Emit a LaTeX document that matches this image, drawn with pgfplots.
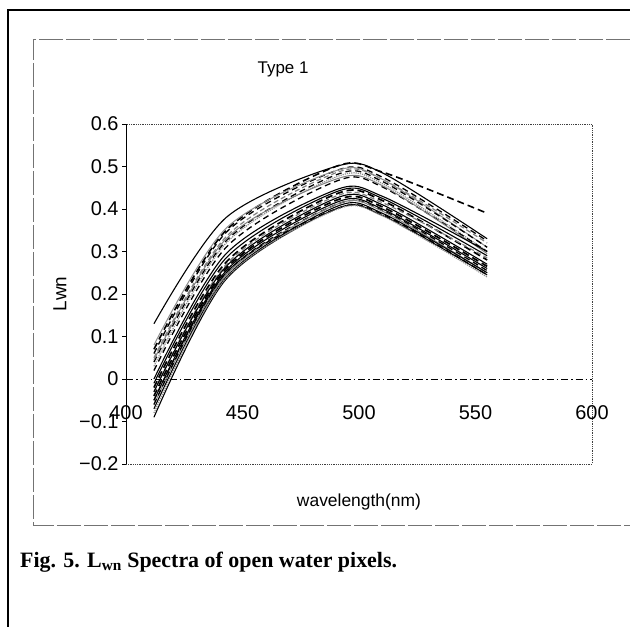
\documentclass[border=0pt]{standalone}
\usepackage{fontspec}
\setmainfont{Liberation Sans}
\newfontfamily\capfont{Liberation Serif}
\usepackage{pgfplots}
\pgfplotsset{compat=1.18}
\begin{document}
\begin{tikzpicture}
\path[use as bounding box] (0bp,0bp) rectangle (630bp,627bp);
\draw[line width=2bp] (8bp,0bp) -- (8bp,617bp) -- (630bp,617bp);
\draw[black!55, line width=0.7bp, dash pattern=on 24bp off 3bp] (630bp,588bp) -- (33bp,588bp) -- (33bp,102bp) -- (630bp,102bp);
\begin{axis}[
  at={(126bp,163bp)}, anchor=south west,
  scale only axis, width=466bp, height=340bp,
  xmin=400, xmax=600, ymin=-0.2, ymax=0.6,
  axis line style={black!75, densely dotted, line width=0.8bp},
  xtick={400,450,500,550,600},
  xticklabels={400,450,500,550,600},
  ytick={-0.2,-0.1,0,0.1,0.2,0.3,0.4,0.5,0.6},
  yticklabels={−0.2,−0.1,0,0.1,0.2,0.3,0.4,0.5,0.6},
  ytick pos=left,
  tick align=outside,
  major tick length=4bp,
  xtick style={draw=none},
  ytick style={black, line width=0.6bp, solid},
  ticklabel style={font=\fontsize{20}{21}\selectfont},
  xticklabel style={anchor=center, yshift=55bp},
  /pgf/number format/assume math mode=true,
  extra y ticks={0},
  extra y tick labels={},
  extra y tick style={grid=major, major grid style={black, solid, line width=0.7bp, dash pattern=on 7bp off 3bp on 1.5bp off 3bp}, tick style={draw=none}},
  title={Type 1},
  title style={at={(axis description cs:0.337,1.144)}, anchor=center, font=\fontsize{17}{18}\selectfont},
  xlabel={wavelength(nm)},
  xlabel style={at={(axis description cs:0.5,-0.112)}, anchor=center, font=\fontsize{17.5}{18}\selectfont},
  ylabel={Lwn},
  ylabel style={at={(axis description cs:-0.142,0.5)}, anchor=center, rotate=0, font=\fontsize{19}{20}\selectfont},
  clip=false,
]
\draw[black, solid, line width=0.9bp] (rel axis cs:0,0) -- (rel axis cs:0,1);
% top group
\addplot[smooth, black, line width=1.1bp] coordinates {(412,0.13) (443,0.38) (490,0.500) (510,0.485) (555,0.33)};
\addplot[smooth, black, line width=1.6bp, dash pattern=on 7bp off 4bp] coordinates {(412,0.07) (443,0.35) (490,0.500) (510,0.487) (555,0.39)};
\addplot[smooth, black, line width=1.3bp, dash pattern=on 6bp off 4bp] coordinates {(412,0.06) (443,0.345) (490,0.49) (510,0.475) (555,0.325)};
\addplot[smooth, black!50, line width=1.2bp, dash pattern=on 5bp off 3bp] coordinates {(412,0.05) (443,0.335) (490,0.485) (510,0.47) (555,0.32)};
\addplot[smooth, black!45, line width=1bp] coordinates {(412,0.08) (443,0.355) (490,0.49) (510,0.47) (555,0.31)};
\addplot[smooth, black, line width=1.3bp, dash pattern=on 6bp off 4bp] coordinates {(412,0.04) (443,0.325) (490,0.48) (510,0.465) (555,0.31)};
\addplot[smooth, black!45, line width=1.2bp, densely dotted] coordinates {(412,0.03) (443,0.32) (490,0.475) (510,0.46) (555,0.30)};
\addplot[smooth, black, line width=1.3bp, dash pattern=on 6bp off 4bp] coordinates {(412,0.02) (443,0.31) (490,0.465) (510,0.452) (555,0.30)};
\addplot[smooth, black!50, line width=1bp] coordinates {(412,0.045) (443,0.33) (490,0.47) (510,0.455) (555,0.295)};
% lower group
\addplot[smooth, black, line width=1.1bp] coordinates {(412,0.00) (443,0.295) (490,0.445) (510,0.43) (555,0.30)};
\addplot[smooth, black, line width=1.1bp] coordinates {(412,-0.01) (443,0.285) (490,0.44) (510,0.425) (555,0.29)};
\addplot[smooth, black, line width=1.7bp, dash pattern=on 7bp off 4bp] coordinates {(412,-0.02) (443,0.275) (490,0.435) (510,0.42) (555,0.28)};
\addplot[smooth, black!50, line width=1.2bp, dash pattern=on 5bp off 3bp] coordinates {(412,-0.03) (443,0.27) (490,0.43) (510,0.415) (555,0.285)};
\addplot[smooth, black, line width=1.1bp] coordinates {(412,-0.03) (443,0.265) (490,0.425) (510,0.41) (555,0.27)};
\addplot[smooth, black, line width=1.7bp, dash pattern=on 7bp off 4bp] coordinates {(412,-0.04) (443,0.26) (490,0.42) (510,0.405) (555,0.265)};
\addplot[smooth, black, line width=1.1bp] coordinates {(412,-0.05) (443,0.255) (490,0.415) (510,0.40) (555,0.26)};
\addplot[smooth, black, line width=1.3bp, dash pattern=on 6bp off 4bp] coordinates {(412,-0.05) (443,0.25) (490,0.41) (510,0.397) (555,0.255)};
\addplot[smooth, black!50, line width=1bp] coordinates {(412,-0.06) (443,0.245) (490,0.41) (510,0.395) (555,0.25)};
\addplot[smooth, black, line width=1.1bp] coordinates {(412,-0.07) (443,0.24) (490,0.405) (510,0.39) (555,0.25)};
\addplot[smooth, black, line width=1.3bp, dash pattern=on 6bp off 4bp] coordinates {(412,-0.06) (443,0.25) (490,0.40) (510,0.388) (555,0.245)};
\addplot[smooth, black, line width=1.1bp] coordinates {(412,-0.09) (443,0.235) (490,0.40) (510,0.385) (555,0.245)};
\addplot[smooth, black!45, line width=1.2bp, densely dotted] coordinates {(412,-0.08) (443,0.238) (490,0.398) (510,0.384) (555,0.24)};
\end{axis}
\node[anchor=west, inner sep=0pt, font=\capfont\bfseries\fontsize{22}{24}\selectfont] at (20bp,65bp) {Fig. 5. L\textsubscript{wn} Spectra of open water pixels.};
\end{tikzpicture}
\end{document}
